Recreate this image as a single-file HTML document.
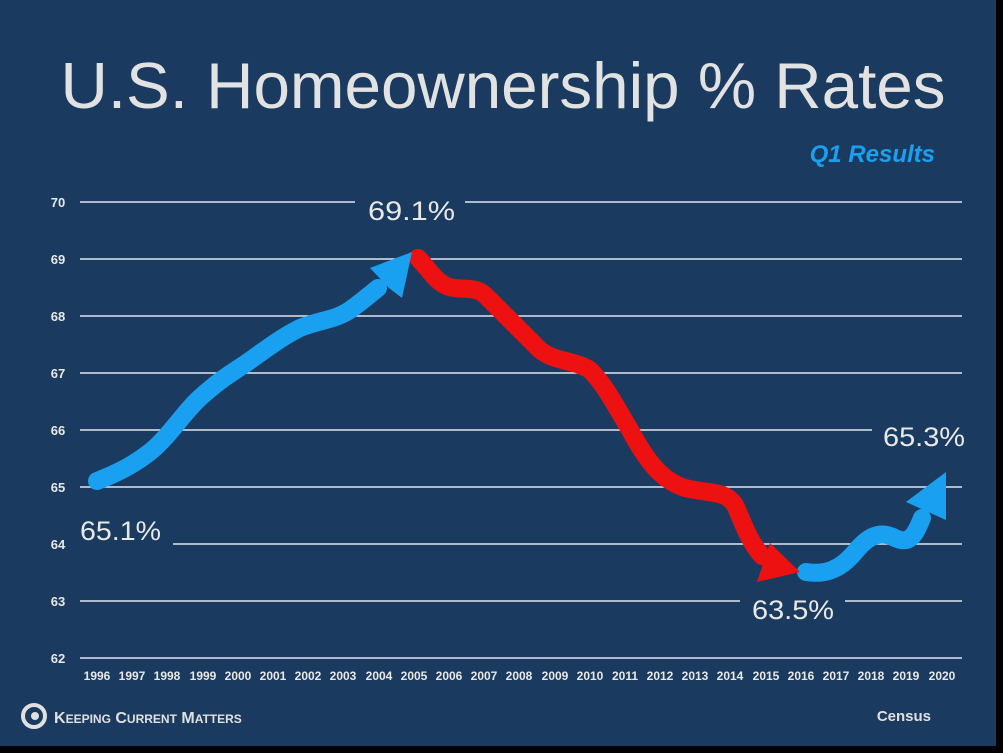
<!DOCTYPE html>
<html><head><meta charset="utf-8"><style>
body{margin:0;background:#000;}
svg{display:block;font-family:"Liberation Sans",sans-serif;}
</style></head><body>
<svg width="1003" height="753" viewBox="0 0 1003 753">
<rect x="0" y="0" width="996" height="746" fill="#1a3b5f"/>
<text x="503" y="108" text-anchor="middle" font-size="65" fill="#e2e2e2" textLength="885" lengthAdjust="spacingAndGlyphs">U.S. Homeownership % Rates</text>
<text x="935" y="162" text-anchor="end" font-size="24" font-style="italic" font-weight="bold" fill="#1aa0f0">Q1 Results</text>
<g stroke="#dfe6ee" stroke-width="1.5">
<line x1="80" y1="202" x2="355" y2="202"/><line x1="465" y1="202" x2="962" y2="202"/>
<line x1="80" y1="259" x2="962" y2="259"/>
<line x1="80" y1="316" x2="962" y2="316"/>
<line x1="80" y1="373" x2="962" y2="373"/>
<line x1="80" y1="430" x2="872" y2="430"/>
<line x1="80" y1="487" x2="962" y2="487"/>
<line x1="173" y1="544" x2="962" y2="544"/>
<line x1="80" y1="601" x2="740" y2="601"/><line x1="845" y1="601" x2="962" y2="601"/>
<line x1="80" y1="658" x2="962" y2="658"/>
</g>
<g font-size="13" font-weight="bold" fill="#e8e8e8" text-anchor="middle">
<text x="58" y="207">70</text><text x="58" y="264">69</text><text x="58" y="321">68</text><text x="58" y="378">67</text><text x="58" y="435">66</text><text x="58" y="492">65</text><text x="58" y="549">64</text><text x="58" y="606">63</text><text x="58" y="663">62</text>
</g>
<g font-size="12" font-weight="bold" fill="#e8e8e8" text-anchor="middle">
<text x="97" y="680">1996</text><text x="132" y="680">1997</text><text x="167" y="680">1998</text><text x="203" y="680">1999</text><text x="238" y="680">2000</text><text x="273" y="680">2001</text><text x="308" y="680">2002</text><text x="343" y="680">2003</text><text x="379" y="680">2004</text><text x="414" y="680">2005</text><text x="449" y="680">2006</text><text x="484" y="680">2007</text><text x="519" y="680">2008</text><text x="555" y="680">2009</text><text x="590" y="680">2010</text><text x="625" y="680">2011</text><text x="660" y="680">2012</text><text x="695" y="680">2013</text><text x="730" y="680">2014</text><text x="766" y="680">2015</text><text x="801" y="680">2016</text><text x="836" y="680">2017</text><text x="871" y="680">2018</text><text x="906" y="680">2019</text><text x="942" y="680">2020</text>
</g>
<g fill="none" stroke-linejoin="round" stroke-linecap="round" stroke-width="18">
<path stroke="#1aa0f0" d="M97,481 C115,474 132,466 150,452 C170,436 185,410 203,395 C220,380 230,374 245,364 C265,350 280,338 300,328 C320,320 335,320 350,310 C360,303 368,296 378,288"/>
<path stroke="#ee1111" d="M418,258 C430,270 438,287 455,288 C475,290 478,287 490,300 C505,315 520,330 540,350 C555,362 575,360 590,370 C605,385 615,405 630,430 C645,458 660,480 685,488 C710,494 725,490 735,505 C742,520 748,540 762,556"/>
<path stroke="#1aa0f0" d="M806,572 C825,575 840,570 855,552 C868,536 880,530 895,538 C910,545 915,535 922,518"/>
</g>
<polygon fill="#1aa0f0" points="412,252 402,298 389,288 370,268"/>
<polygon fill="#ee1111" points="800,572 757,582 770,543"/>
<polygon fill="#1aa0f0" points="946,472 946,520 906,502"/>
<g font-size="27" fill="#e8e8e8">
<text x="368" y="220" textLength="87" lengthAdjust="spacingAndGlyphs">69.1%</text>
<text x="883" y="446" textLength="82" lengthAdjust="spacingAndGlyphs">65.3%</text>
<text x="80" y="540" textLength="81" lengthAdjust="spacingAndGlyphs">65.1%</text>
<text x="752" y="619" textLength="82" lengthAdjust="spacingAndGlyphs">63.5%</text>
</g>
<circle cx="34" cy="716" r="11" fill="none" stroke="#e0e0e0" stroke-width="4"/>
<circle cx="35" cy="716" r="4" fill="#e0e0e0"/>
<text x="54" y="723" font-size="16" font-weight="bold" fill="#e0e0e0">K<tspan font-size="12">EEPING</tspan> C<tspan font-size="12">URRENT</tspan> M<tspan font-size="12">ATTERS</tspan></text>
<text x="931" y="721" text-anchor="end" font-size="15" font-weight="bold" fill="#e0e0e0">Census</text>
</svg>
</body></html>
